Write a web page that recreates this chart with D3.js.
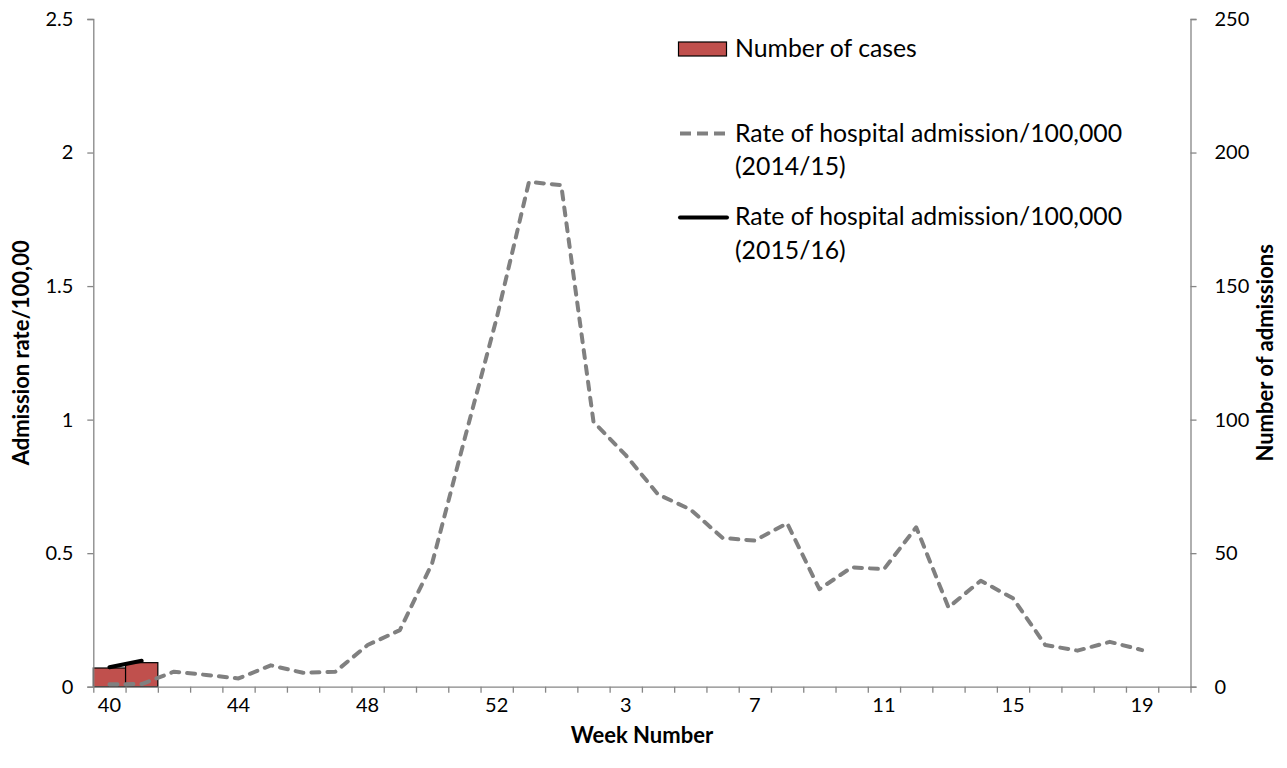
<!DOCTYPE html>
<html>
<head>
<meta charset="utf-8">
<script src="https://cdn.jsdelivr.net/npm/d3@7"></script>
<style>
  body { margin: 0; background: #fff; }
  svg { font-family: Lato, "Open Sans", sans-serif; }
</style>
</head>
<body>
<div id="chart"></div>
<script>
// week categories (ISO weeks, 2015 has week 53)
const weeks = [40, 41, 42, 43, 44, 45, 46, 47, 48, 49, 50, 51, 52, 53,
               1, 2, 3, 4, 5, 6, 7, 8, 9, 10, 11, 12, 13, 14, 15, 16, 17, 18, 19, 20];

// rate of hospital admission /100,000 (2014/15)
const rate1415 = [0.009, 0.01, 0.056, 0.044, 0.031, 0.08, 0.052, 0.056, 0.156, 0.212,
                  0.462, 0.925, 1.38, 1.89, 1.878, 0.992, 0.867, 0.72, 0.664, 0.557,
                  0.547, 0.612, 0.365, 0.447, 0.44, 0.597, 0.297, 0.397, 0.331, 0.156,
                  0.135, 0.168, 0.137, null];

// rate of hospital admission /100,000 (2015/16) - only first weeks so far
const rate1516 = [0.073, 0.097];

// number of cases (right axis)
const cases = [7, 9];

const leftTicks  = [0, 0.5, 1, 1.5, 2, 2.5];
const rightTicks = [0, 50, 100, 150, 200, 250];
const labelWeeks = [40, 44, 48, 52, 3, 7, 11, 15, 19];

const W = 1287, H = 768;
const margin = { top: 19, right: 96.5, bottom: 81.3, left: 93.3 };
const width  = W - margin.left - margin.right;
const height = H - margin.top - margin.bottom;

const svg = d3.select("#chart")
  .append("svg")
    .attr("width", W)
    .attr("height", H);

svg.append("rect").attr("width", W).attr("height", H).attr("fill", "#fff");

const g = svg.append("g")
  .attr("transform", `translate(${margin.left},${margin.top})`);

// scales
const x = d3.scaleBand()
  .domain(d3.range(weeks.length))
  .range([0, width])
  .padding(0);

const xEdge = d3.scaleLinear()
  .domain([0, weeks.length])
  .range([0, width]);

const yL = d3.scaleLinear().domain([0, 2.5]).range([height, 0]);
const yR = d3.scaleLinear().domain([0, 250]).range([height, 0]);

const axisColor = "#868686";

// bars (number of cases)
g.selectAll("rect.bar")
  .data(cases)
  .join("rect")
    .attr("class", "bar")
    .attr("x", (d, i) => x(i))
    .attr("width", x.bandwidth())
    .attr("y", d => yR(d))
    .attr("height", d => height - yR(d))
    .attr("fill", "#C0504D")
    .attr("stroke", "#000")
    .attr("stroke-width", 1.2);

// x axis: tick marks on category edges
const xAxis = g.append("g")
  .attr("transform", `translate(0,${height})`)
  .call(d3.axisBottom(xEdge)
    .tickValues(d3.range(weeks.length + 1))
    .tickSize(6)
    .tickSizeOuter(0)
    .tickFormat(""));
xAxis.selectAll("path, line").attr("stroke", axisColor).attr("stroke-width", 1.3);

// x labels every 4th week, centred on the category
const xLab = g.append("g")
  .attr("transform", `translate(0,${height})`)
  .call(d3.axisBottom(x)
    .tickValues(d3.range(weeks.length).filter(i => labelWeeks.includes(weeks[i])))
    .tickSize(0)
    .tickPadding(11)
    .tickFormat(i => weeks[i]));
xLab.select(".domain").remove();
xLab.selectAll("text").attr("font-size", 20).attr("fill", "#000").attr("font-family", "Lato");

// left axis
const yAxisL = g.append("g")
  .call(d3.axisLeft(yL).tickValues(leftTicks).tickSize(6).tickSizeOuter(6).tickPadding(14)
    .tickFormat(d => d));
yAxisL.selectAll("path, line").attr("stroke", axisColor).attr("stroke-width", 1.3);
yAxisL.selectAll("text").attr("font-size", 20).attr("fill", "#000").attr("font-family", "Lato");

// right axis
const yAxisR = g.append("g")
  .attr("transform", `translate(${width},0)`)
  .call(d3.axisRight(yR).tickValues(rightTicks).tickSize(6).tickSizeOuter(6).tickPadding(18));
yAxisR.selectAll("path, line").attr("stroke", axisColor).attr("stroke-width", 1.3);
yAxisR.selectAll("text").attr("font-size", 20).attr("fill", "#000").attr("font-family", "Lato");

// lines
const line = d3.line()
  .defined(d => d != null)
  .x((d, i) => x(i) + x.bandwidth() / 2)
  .y(d => yL(d));

g.append("path")
  .datum(rate1415)
  .attr("fill", "none")
  .attr("stroke", "#808080")
  .attr("stroke-width", 4)
  .attr("stroke-linecap", "round")
  .attr("stroke-linejoin", "round")
  .attr("stroke-dasharray", "8,8")
  .attr("d", line);

g.append("path")
  .datum(rate1516)
  .attr("fill", "none")
  .attr("stroke", "#000")
  .attr("stroke-width", 4)
  .attr("stroke-linecap", "round")
  .attr("d", line);

// axis titles
svg.append("text")
  .attr("x", margin.left + width / 2)
  .attr("y", 743)
  .attr("text-anchor", "middle")
  .attr("font-size", 22)
  .attr("font-weight", "700")
  .text("Week Number");

svg.append("text")
  .attr("transform", `translate(29,${margin.top + height / 2}) rotate(-90)`)
  .attr("text-anchor", "middle")
  .attr("font-size", 22)
  .attr("font-weight", "700")
  .text("Admission rate/100,00");

svg.append("text")
  .attr("transform", `translate(1273,${margin.top + height / 2}) rotate(-90)`)
  .attr("text-anchor", "middle")
  .attr("font-size", 22)
  .attr("font-weight", "700")
  .text("Number of admissions");

// legend
const leg = svg.append("g").attr("font-size", 24.8);

leg.append("rect")
  .attr("x", 678.5).attr("y", 42)
  .attr("width", 48).attr("height", 14)
  .attr("fill", "#C0504D").attr("stroke", "#000").attr("stroke-width", 1.2);
leg.append("text").attr("x", 735).attr("y", 56.5).text("Number of cases");

leg.append("line")
  .attr("x1", 680).attr("x2", 727).attr("y1", 133.5).attr("y2", 133.5)
  .attr("stroke", "#808080").attr("stroke-width", 4)
  .attr("stroke-dasharray", "11,6");
leg.append("text").attr("x", 735).attr("y", 141.5).text("Rate of hospital admission/100,000");
leg.append("text").attr("x", 735).attr("y", 175).text("(2014/15)");

leg.append("line")
  .attr("x1", 680).attr("x2", 727).attr("y1", 217.5).attr("y2", 217.5)
  .attr("stroke", "#000").attr("stroke-width", 4).attr("stroke-linecap", "round");
leg.append("text").attr("x", 735).attr("y", 225).text("Rate of hospital admission/100,000");
leg.append("text").attr("x", 735).attr("y", 258.5).text("(2015/16)");
</script>
</body>
</html>
